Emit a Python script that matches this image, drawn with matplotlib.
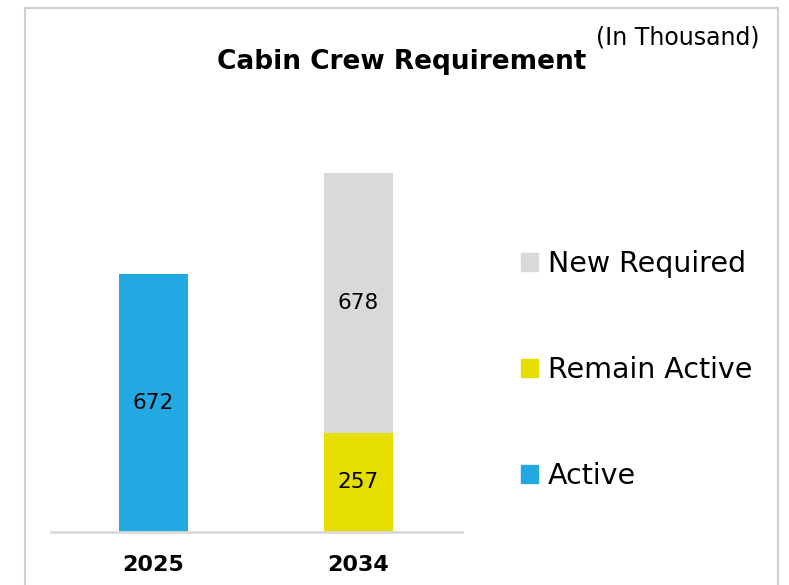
import matplotlib
matplotlib.use("Agg")
import matplotlib.pyplot as plt
from matplotlib.patches import Rectangle, Patch

years = ["2025", "2034"]
active = [672, 0]
remain_active = [0, 257]
new_required = [0, 678]

c_active = "#23A9E1"
c_remain = "#E6DE00"
c_new = "#D9D9D9"

plt.rcParams['font.family'] = ['DejaVu Sans']

W, H = 789, 585
fig = plt.figure(figsize=(W / 100, H / 100), dpi=100)

# border
fig.patches.append(Rectangle((25 / W, -0.05), (778 - 25) / W, 1.05 - 8 / H,
                             transform=fig.transFigure, fill=False,
                             edgecolor="#CFCFCF", linewidth=1.5))

ax = fig.add_axes([51 / W, (H - 531.5) / H, 411 / W, 431.5 / H])
x = list(range(len(years)))
w = 0.337

ax.bar(x[0], active[0], width=w, color=c_active)
ax.bar(x[1], remain_active[1], width=w, color=c_remain)
ax.bar(x[1], new_required[1], width=w, bottom=remain_active[1], color=c_new)

vfs = 15.5
ax.text(x[0], active[0] / 2, str(active[0]), ha="center", va="center", fontsize=vfs)
ax.text(x[1], remain_active[1] / 2, str(remain_active[1]), ha="center", va="center", fontsize=vfs)
ax.text(x[1], remain_active[1] + new_required[1] / 2, str(new_required[1]),
        ha="center", va="center", fontsize=vfs)

ax.set_xlim(-0.5, 1.505)
ax.set_ylim(0, 1124)
ax.set_xticks(x)
ax.set_xticklabels(years, fontsize=16, fontweight="bold")
ax.tick_params(axis="x", length=0, pad=17)
ax.set_yticks([])
for s in ["top", "right", "left"]:
    ax.spines[s].set_visible(False)
ax.spines["bottom"].set_color("#D9D9D9")
ax.spines["bottom"].set_linewidth(2)

handles = [Patch(color=c_new, label="New Required"),
           Patch(color=c_remain, label="Remain Active"),
           Patch(color=c_active, label="Active")]
fig.legend(handles=handles, loc="center left", bbox_to_anchor=(495 / W, 1 - 370 / H),
           frameon=False, fontsize=20.5, handlelength=0.6, handleheight=0.6,
           handletextpad=0.35, labelspacing=2.75)

fig.text(402 / W, 1 - 62 / H, "Cabin Crew Requirement", ha="center", va="center",
         fontsize=19, fontweight="bold")
fig.text(760 / W, 1 - 38 / H, "(In Thousand)", ha="right", va="center", fontsize=17)

fig.savefig("out.png", dpi=100)
